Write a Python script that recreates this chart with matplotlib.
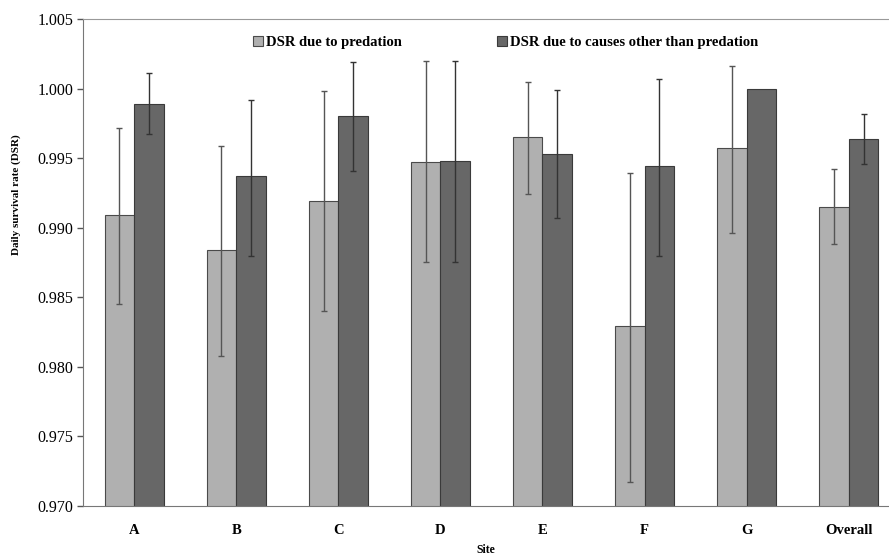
import numpy as np
import matplotlib.pyplot as plt

sites = ['A', 'B', 'C', 'D', 'E', 'F', 'G', 'Overall']

pred = [0.9909, 0.9884, 0.9919, 0.9947, 0.9965, 0.9829, 0.9957, 0.9915]
pred_hi = [0.9972, 0.9959, 0.9998, 1.0020, 1.0005, 0.9939, 1.0016, 0.9942]
pred_lo = [0.9845, 0.9808, 0.9840, 0.9875, 0.9924, 0.9717, 0.9896, 0.9888]

other = [0.9989, 0.9937, 0.9980, 0.9948, 0.9953, 0.9944, 1.0000, 0.9964]
other_hi = [1.0011, 0.9992, 1.0019, 1.0020, 0.9999, 1.0007, 1.0000, 0.9982]
other_lo = [0.9967, 0.9880, 0.9941, 0.9875, 0.9907, 0.9880, 1.0000, 0.9946]

plt.rcParams['font.family'] = ['Liberation Serif', 'DejaVu Serif']

fig = plt.figure(figsize=(8.89, 5.55), dpi=100)
ax = fig.add_axes([0.0934, 0.0883, 0.9066, 0.8775])

x = np.arange(len(sites))
w = 0.289
pred = np.array(pred)
other = np.array(other)
err_p = np.array([pred - np.array(pred_lo), np.array(pred_hi) - pred])
err_o = np.array([other - np.array(other_lo), np.array(other_hi) - other])
# no interval drawn where it collapses to the bar top (site G)
has_p = err_p.sum(axis=0) > 0
has_o = err_o.sum(axis=0) > 0

ax.bar(x - w / 2, pred, w, color='#b0b0b0', edgecolor='#4a4a4a', linewidth=0.8,
       label='DSR due to predation', zorder=2)
ax.bar(x + w / 2, other, w, color='#676767', edgecolor='#3a3a3a', linewidth=0.8,
       label='DSR due to causes other than predation', zorder=2)
ax.errorbar((x - w / 2)[has_p], pred[has_p], yerr=err_p[:, has_p], fmt='none',
            ecolor='#555555', elinewidth=1, capsize=2.5, capthick=1, zorder=3)
ax.errorbar((x + w / 2)[has_o], other[has_o], yerr=err_o[:, has_o], fmt='none',
            ecolor='#333333', elinewidth=1, capsize=2.5, capthick=1, zorder=3)

ticks = np.arange(0.970, 1.0051, 0.005)
ax.set_ylim(0.970, 1.005)
ax.set_xlim(-0.5, 7.394)
ax.set_yticks(ticks)
ax.set_yticklabels(['%.3f' % v for v in ticks])
ax.set_xticks(x)
ax.set_xticklabels(sites, fontweight='bold')
ax.tick_params(axis='x', length=0, pad=13, labelsize=10.5)
ax.tick_params(axis='y', length=4, width=1, color='#555555', pad=3, labelsize=11.5)

ax.spines['right'].set_visible(False)
ax.spines['top'].set_color('#999999')
ax.spines['left'].set_color('#777777')
ax.spines['bottom'].set_color('#777777')

ax.set_xlabel('Site', fontsize=8.5, fontweight='bold', labelpad=5)
fig.text(0.018, 1 - 195 / 555, 'Daily survival rate (DSR)', rotation=90, fontsize=8,
         fontweight='bold', ha='center', va='center')

ax.legend(loc='center', bbox_to_anchor=(0.524, 0.951), ncol=2, frameon=False,
          prop={'size': 10.5, 'weight': 'bold'}, handlelength=0.7, handleheight=0.7,
          handletextpad=0.2, columnspacing=6.5)

fig.savefig('out.png', dpi=100)
